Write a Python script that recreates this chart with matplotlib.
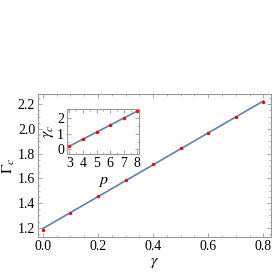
import numpy as np
import matplotlib.pyplot as plt
from matplotlib.ticker import MultipleLocator

# main panel data
gamma = [0.0, 0.1, 0.2, 0.3, 0.4, 0.5, 0.6, 0.7, 0.8]
gamma_c_crit = [1.182, 1.322, 1.457, 1.587, 1.716, 1.843, 1.971, 2.095, 2.216]

# inset data
p_vals = [3, 4, 5, 6, 7, 8]
gamma_c = [0.21, 0.64, 1.10, 1.55, 2.00, 2.45]

line_color = "#5E81B5"
frame_color = "#999999"

plt.rcParams["font.family"] = ["Liberation Serif", "DejaVu Serif"]
plt.rcParams["mathtext.fontset"] = "stix"


def style_axes(ax, size):
    for s in ax.spines.values():
        s.set_color(frame_color)
        s.set_linewidth(0.8)
    ax.tick_params(which="both", direction="in", color=frame_color,
                   top=True, right=True, labelsize=size, pad=2)
    ax.tick_params(which="major", length=3, width=0.6)
    ax.tick_params(which="minor", length=1.5, width=0.5)


fig = plt.figure(figsize=(2.72, 2.72), dpi=100)
ax = fig.add_axes([38 / 272, 1 - 237 / 272, 233 / 272, 143 / 272])

fit = np.polyfit(gamma, gamma_c_crit, 1)
gx = np.array([gamma[0], gamma[-1]])
ax.plot(gx, np.polyval(fit, gx), color=line_color, lw=1.2, zorder=1)
ax.scatter(gamma, gamma_c_crit, s=6, color="red", zorder=2, linewidths=0)

ax.set_xlim(-0.018, 0.828)
ax.set_ylim(1.125, 2.283)
ax.set_xticks([0.0, 0.2, 0.4, 0.6, 0.8])
ax.xaxis.set_minor_locator(MultipleLocator(0.05))
ax.set_yticks([1.2, 1.4, 1.6, 1.8, 2.0, 2.2])
ax.yaxis.set_minor_locator(MultipleLocator(0.05))
ax.set_xticklabels(["0.0", "0.2", "0.4", "0.6", "0.8"])
ax.set_yticklabels(["1.2", "1.4", "1.6", "1.8", "2.0", "2.2"])
style_axes(ax, 10)
ax.set_xlabel(r"$\gamma$", fontsize=11.5, labelpad=1)
ax.set_ylabel(r"$\Gamma_c$", fontsize=11.5)
ax.yaxis.set_label_coords(-0.09, 0.5)

ins = fig.add_axes([67 / 272, 1 - 154 / 272, 72 / 272, 45 / 272])
fit2 = np.polyfit(p_vals, gamma_c, 1)
px = np.array([p_vals[0], p_vals[-1]])
ins.plot(px, np.polyval(fit2, px), color=line_color, lw=1.2, zorder=1)
ins.scatter(p_vals, gamma_c, s=6, color="red", zorder=2, linewidths=0)
ins.set_xlim(2.83, 8.12)
ins.set_ylim(-0.3, 2.58)
ins.set_xticks([3, 4, 5, 6, 7, 8])
ins.set_yticks([0, 1, 2])
ins.xaxis.set_minor_locator(MultipleLocator(0.5))
ins.yaxis.set_minor_locator(MultipleLocator(0.5))
style_axes(ins, 10)
ins.set_xlabel(r"$p$", fontsize=11.5, labelpad=2)
ins.set_ylabel(r"$\gamma_c$", fontsize=11.5, labelpad=1)

fig.savefig("out.png", dpi=100)
